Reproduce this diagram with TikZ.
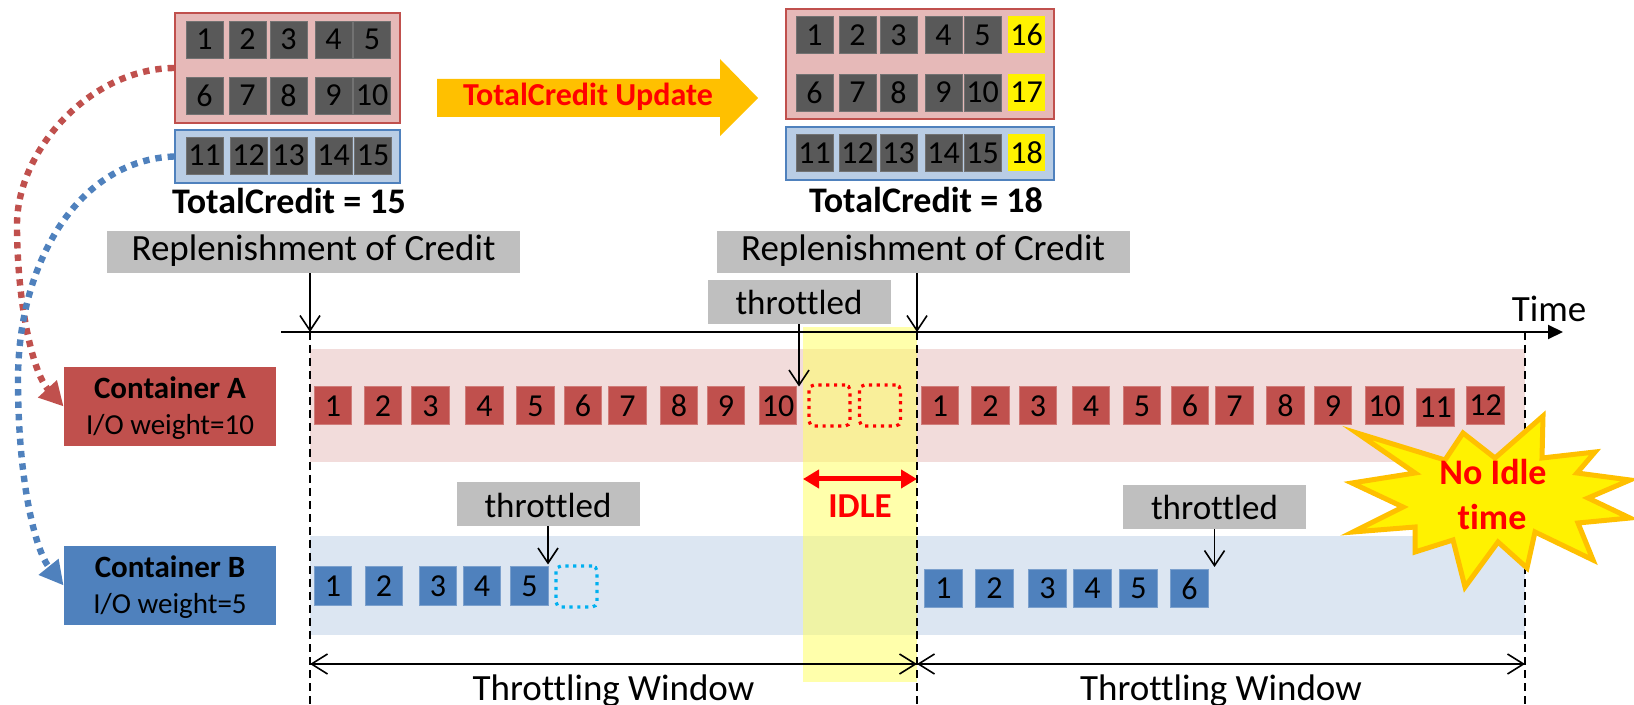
\documentclass[tikz,border=0pt]{standalone}
\usepackage{fontspec}
\setmainfont{Carlito}[Ligatures=NoCommon]
\usetikzlibrary{arrows.meta}
\definecolor{redA}{HTML}{C0504D}
\definecolor{blueB}{HTML}{4F81BD}
\definecolor{laneA}{HTML}{F2DCDB}
\definecolor{laneB}{HTML}{DCE6F2}
\definecolor{poolA}{HTML}{E6B9B8}
\definecolor{poolB}{HTML}{B9CDE5}
\definecolor{darksq}{HTML}{595959}
\definecolor{grayL}{HTML}{BFBFBF}
\definecolor{amber}{HTML}{FFC000}
\definecolor{skyB}{HTML}{00B0F0}
\definecolor{idleY}{HTML}{FFFF66}
\newcommand\fs[1]{\fontsize{#1}{#1}\selectfont}

\begin{document}
\begin{tikzpicture}[x=0.5pt,y=-0.5pt,
  credit/.style={fill=darksq, draw=darksq!85!white, line width=0.4pt, minimum width=18.5pt,
    minimum height=18.5pt, inner sep=0pt, font=\fs{16pt}},
  newcredit/.style={credit, fill=yellow, draw=none},
  ioA/.style={fill=redA, draw=redA!75!white, line width=0.5pt, minimum width=18.75pt,
    minimum height=19pt, inner sep=0pt, font=\fs{16pt}},
  ioB/.style={ioA, fill=blueB, draw=blueB!75!white},
  pendA/.style={draw=red, line width=1.6pt, dash pattern=on 1.6pt off 2.3pt,
    rounded corners=2.5pt, minimum width=20.5pt, minimum height=20.5pt, inner sep=0pt},
  pendB/.style={pendA, draw=skyB},
  poolred/.style={fill=poolA, draw=redA, line width=1pt, inner sep=0pt},
  poolblue/.style={fill=poolB, draw=blueB, line width=1pt, inner sep=0pt},
  reptag/.style={fill=grayL, inner sep=0pt, font=\fs{18.5pt}, minimum width=206.5pt,
    minimum height=21pt, text height=12.95pt, text depth=3.95pt},
  thrtag/.style={fill=grayL, inner sep=0pt, font=\fs{17.5pt}, minimum width=91.5pt,
    minimum height=22pt, text height=13pt, text depth=0pt},
  ctrbox/.style={inner sep=0pt, minimum width=106pt, minimum height=39.5pt},
  total/.style={font=\fs{18pt}\bfseries, anchor=base, inner sep=0pt},
  plain/.style={anchor=base, inner sep=0pt},
  pointer/.style={line width=0.8pt, -{Straight Barb[length=7.5pt,width=10pt]}},
  window/.style={line width=0.8pt, {Straight Barb[length=8pt,width=10pt]}-{Straight Barb[length=8pt,width=10pt]}},
  bound/.style={line width=1pt, dash pattern=on 4pt off 2.5pt},
  link/.style={line width=3.2pt, dash pattern=on 3.2pt off 3pt, -{Triangle[length=12pt,width=12pt]}}
]
\useasboundingbox (0,0) rectangle (1634,705);
\clip (0,0) rectangle (1634,705);

% ---------- lanes of the two containers ----------
\fill[laneA] (310,349) rectangle (1525,462);
\fill[laneB] (310,536) rectangle (1525,635);
% idle period of container A
\fill[idleY, opacity=0.55] (803,327) rectangle (917,682);

% ---------- time axis and window boundaries ----------
\coordinate (axL) at (281,332);
\coordinate (axR) at (1563,332);
\coordinate (t0) at (310,332);
\coordinate (t1) at (917,332);
\coordinate (t2) at (1525,332);
\coordinate (bot) at (0,705);
\coordinate (w0) at (310,664);
\coordinate (w1) at (917,664);
\coordinate (w2) at (1525,664);

\draw[bound] (t0) -- (t0 |- bot);
\draw[bound] (t1) -- (t1 |- bot);
\draw[bound] (t2) -- (t2 |- bot);
\draw[line width=1pt, -{Triangle[length=7.5pt,width=7pt]}] (axL) -- (axR);
\node[plain, font=\fs{18.5pt}] (timelbl) at (1549,322) {Time};

\draw[window] (w0) -- (w1);
\draw[window] (w1) -- (w2);
\node[plain, font=\fs{18.5pt}] (win1) at (613.5,700) {Throttling Window};
\node[plain, font=\fs{18.5pt}] (win2) at (1221,700) {Throttling Window};

% ---------- idle marker ----------
\coordinate (idL) at (803,479);
\coordinate (idR) at (917,479);
\draw[red, line width=2.5pt, {Triangle[length=8pt,width=9pt]}-{Triangle[length=8pt,width=9pt]}] (idL) -- (idR);
\node[plain, font=\fs{17.5pt}\bfseries, text=red] (idle) at (860,517) {IDLE};

% ---------- no idle time burst ----------
\filldraw[fill=yellow, draw=amber, line width=2.5pt, line join=miter, miter limit=10]
  (1357,433) -- (1445,460) -- (1463,433) -- (1495,458) -- (1543,416) -- (1542,458)
  -- (1595,452) -- (1577,473) -- (1630,480) -- (1588,498) -- (1630,518) -- (1578,523)
  -- (1593,560) -- (1535,532) -- (1527,568) -- (1498,542) -- (1465,587) -- (1453,540)
  -- (1415,552) -- (1415,527) -- (1353,532) -- (1403,507) -- (1352,483) -- (1415,473)
  -- cycle;
\node[plain, font=\fs{18pt}\bfseries, text=red] (noidle1) at (1493,485) {No Idle};
\node[plain, font=\fs{18pt}\bfseries, text=red] (noidle2) at (1492,530) {time};

% ---------- credit pools ----------
\node[poolred, minimum width=112.5pt, minimum height=55pt] (poolAL) at (287.5,68) {};
\node[poolblue, minimum width=112.5pt, minimum height=26.5pt] (poolBL) at (287.5,156.5) {};
\node[poolred, minimum width=134pt, minimum height=55pt] (poolAR) at (920,64) {};
\node[poolblue, minimum width=134pt, minimum height=26.5pt] (poolBR) at (920,153.5) {};

\foreach \n/\x in {1/204.5,2/247.5,3/288.5,4/333.5,5/372}
  \node[credit] (pl\n) at (\x,39.5) {\n};
\foreach \n/\x in {6/204.5,7/247.5,8/288.5,9/333.5,10/372}
  \node[credit] (pl\n) at (\x,95.5) {\n};
\foreach \n/\x in {11/204.5,12/248.5,13/288.5,14/333.5,15/373}
  \node[credit] (pl\n) at (\x,155.5) {\n};

\foreach \n/\x in {1/814.5,2/857.5,3/898.5,4/943.5,5/982.5}
  \node[credit] (pr\n) at (\x,35) {\n};
\foreach \n/\x in {6/814.5,7/857.5,8/898.5,9/943.5,10/982.5}
  \node[credit] (pr\n) at (\x,92.5) {\n};
\foreach \n/\x in {11/814.5,12/857.5,13/898.5,14/943.5,15/982.5}
  \node[credit] (pr\n) at (\x,153) {\n};
\node[newcredit] (pr16) at (1026.5,35) {16};
\node[newcredit] (pr17) at (1026.5,92.5) {17};
\node[newcredit] (pr18) at (1026.5,153) {18};

\node[total] (tot15) at (289,214) {TotalCredit = 15};
\node[total] (tot18) at (926,213) {TotalCredit = 18};

% update arrow
\fill[amber] (437,79) -- (720,79) -- (720,59) -- (758,98) -- (720,136) -- (720,117) -- (437,117) -- cycle;
\node[plain, font=\fs{16pt}\bfseries, text=red] (upd) at (588,106) {TotalCredit Update};

% ---------- replenishment tags ----------
\node[reptag] (rep1) at (313.5,252) {Replenishment of Credit};
\node[reptag] (rep2) at (923,252) {Replenishment of Credit};
\draw[pointer] (rep1.south -| t0) -- (t0);
\draw[pointer] (rep2.south -| t1) -- (t1);

% ---------- containers ----------
\node[ctrbox, fill=redA] (ctrA) at (170,406.5) {};
\node[plain, font=\fs{15.5pt}\bfseries] (ctrAname) at (170,399) {Container A};
\node[plain, font=\fs{14.5pt}] (ctrAw) at (170,435) {I/O weight=10};
\node[ctrbox, fill=blueB] (ctrB) at (170,585.5) {};
\node[plain, font=\fs{15.5pt}\bfseries] (ctrBname) at (170,578) {Container B};
\node[plain, font=\fs{14.5pt}] (ctrBw) at (170,613) {I/O weight=5};

\draw[link, redA] (poolAL.west) .. controls (90,69) and (17,150) .. (17,225)
  .. controls (17,300) and (32,372) .. (ctrA.west);
\draw[link, blueB] (poolBL.west) .. controls (80,160) and (18,260) .. (18,380)
  .. controls (18,480) and (35,550) .. (ctrB.west);

% ---------- I/O requests of container A ----------
\foreach \n/\x in {1/333,2/383,3/430.5,4/484.5,5/535.5,6/583,7/627.5,8/679,9/726,10/778}
  \node[ioA] (a\n) at (\x,406) {\n};
\node[pendA] (ap1) at (829.5,405.5) {};
\node[pendA] (ap2) at (880,405.5) {};
\foreach \n/\x in {1/940,2/990.5,3/1038,4/1091,5/1142,6/1190,7/1234.5,8/1285.5,9/1333,10/1384.5}
  \node[ioA] (ar\n) at (\x,406) {\n};
\node[ioA] (ar11) at (1435.5,407.5) {11};
\node[ioA] (ar12) at (1485.5,405.5) {12};

% ---------- I/O requests of container B ----------
\foreach \n/\x in {1/333,2/384,3/438,4/482,5/529.5}
  \node[ioB] (b\n) at (\x,586) {\n};
\node[pendB] (bp1) at (576.5,586.5) {};
\foreach \n/\x in {1/943.5,2/994.5,3/1047.5,4/1092.5,5/1138.5,6/1189.5}
  \node[ioB] (br\n) at (\x,588.5) {\n};

% ---------- throttled tags ----------
\node[thrtag] (thA) at (799,302) {throttled};
\draw[pointer] (thA.south) -- (thA.south |- a10.north);
\node[thrtag] (thB1) at (548,504) {throttled};
\draw[pointer] (thB1.south) -- ([yshift=1pt]thB1.south |- b5.north);
\node[thrtag] (thB2) at (1214.5,507) {throttled};
\draw[pointer] (thB2.south) -- ([yshift=1pt]thB2.south |- br6.north);
\end{tikzpicture}
\end{document}
